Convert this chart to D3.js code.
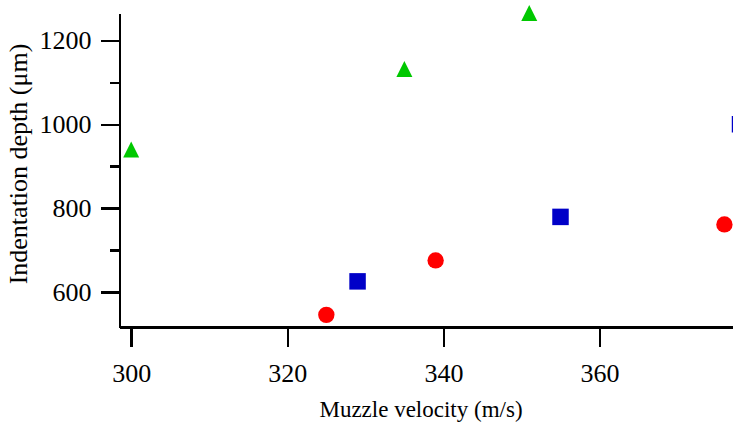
<!DOCTYPE html>
<html>
<head>
<meta charset="utf-8">
<script src="https://cdn.jsdelivr.net/npm/d3@7"></script>
<style>
  html, body { margin: 0; padding: 0; background: #fff; overflow: hidden; }
  svg { display: block; }
  text { font-family: "Liberation Serif", "Times New Roman", serif; fill: #000; }
</style>
</head>
<body>
<svg id="chart" width="733" height="423"></svg>
<script>
// Indentation depth versus muzzle velocity, three projectile series
const triangleVelocity = [300, 335, 351];
const triangleDepth    = [940, 1132, 1266];
const squareVelocity   = [329, 355, 378];
const squareDepth      = [625, 779, 1000];
const circleVelocity   = [325, 339, 376];
const circleDepth      = [545, 675, 761];

const xTicks = [300, 320, 340, 360];
const yMajorTicks = [600, 800, 1000, 1200];
const yMinorTicks = [700, 900, 1100];

const xLabel = "Muzzle velocity (m/s)";
const yLabel = "Indentation depth (μm)";

const svg = d3.select("#chart");

const x = d3.scaleLinear().domain([298.5, 377.1]).range([119.5, 733]);
const y = d3.scaleLinear().domain([516, 1266]).range([327, 13]);

const axisColor = "#000";
const axisWidth = 2.5;
const plain = d3.format("d");

// minor y ticks (drawn first, shorter)
const yMinor = svg.append("g")
  .attr("transform", `translate(${x.range()[0]},0)`)
  .call(d3.axisLeft(y).tickValues(yMinorTicks).tickSize(10).tickSizeOuter(0).tickFormat(""));
yMinor.select(".domain").remove();

// major y axis
const yAxis = svg.append("g")
  .attr("transform", `translate(${x.range()[0]},0)`)
  .call(d3.axisLeft(y).tickValues(yMajorTicks).tickFormat(plain).tickSize(19).tickSizeOuter(0).tickPadding(9));

// x axis
const xAxis = svg.append("g")
  .attr("transform", `translate(0,${y.range()[0]})`)
  .call(d3.axisBottom(x).tickValues(xTicks).tickFormat(plain).tickSize(20).tickSizeOuter(0).tickPadding(17));

[yMinor, yAxis, xAxis].forEach(g => {
  g.selectAll("path, line")
    .attr("stroke", axisColor)
    .attr("stroke-width", axisWidth)
    .attr("shape-rendering", "crispEdges");
  g.selectAll("text")
    .style("font-family", '"Liberation Serif", "Times New Roman", serif')
    .style("font-size", "26px")
    .attr("fill", "#000");
});

// axis titles
svg.append("text")
  .attr("x", 421)
  .attr("y", 417)
  .attr("text-anchor", "middle")
  .style("font-size", "23px")
  .text(xLabel);

svg.append("text")
  .attr("transform", "translate(27,164) rotate(-90)")
  .attr("text-anchor", "middle")
  .style("font-size", "26px")
  .text(yLabel);

// tall isoceles triangle marker
const tallTriangle = {
  draw(context, size) {
    const w = Math.sqrt(size);
    const h = w;
    context.moveTo(0, -h / 2);
    context.lineTo(w / 2, h / 2);
    context.lineTo(-w / 2, h / 2);
    context.closePath();
  }
};

const series = [
  { xs: triangleVelocity, ys: triangleDepth, type: tallTriangle, size: 256, color: "#00c800" },
  { xs: squareVelocity,   ys: squareDepth,   type: d3.symbolSquare, size: 272, color: "#0000c8" },
  { xs: circleVelocity,   ys: circleDepth,   type: d3.symbolCircle, size: 210, color: "#ff0000" }
];

series.forEach(s => {
  const pts = s.xs.map((v, i) => [v, s.ys[i]]);
  svg.append("g").selectAll("path")
    .data(pts)
    .join("path")
    .attr("transform", d => `translate(${x(d[0])},${y(d[1])})`)
    .attr("d", d3.symbol().type(s.type).size(s.size))
    .attr("fill", s.color);
});
</script>
</body>
</html>
